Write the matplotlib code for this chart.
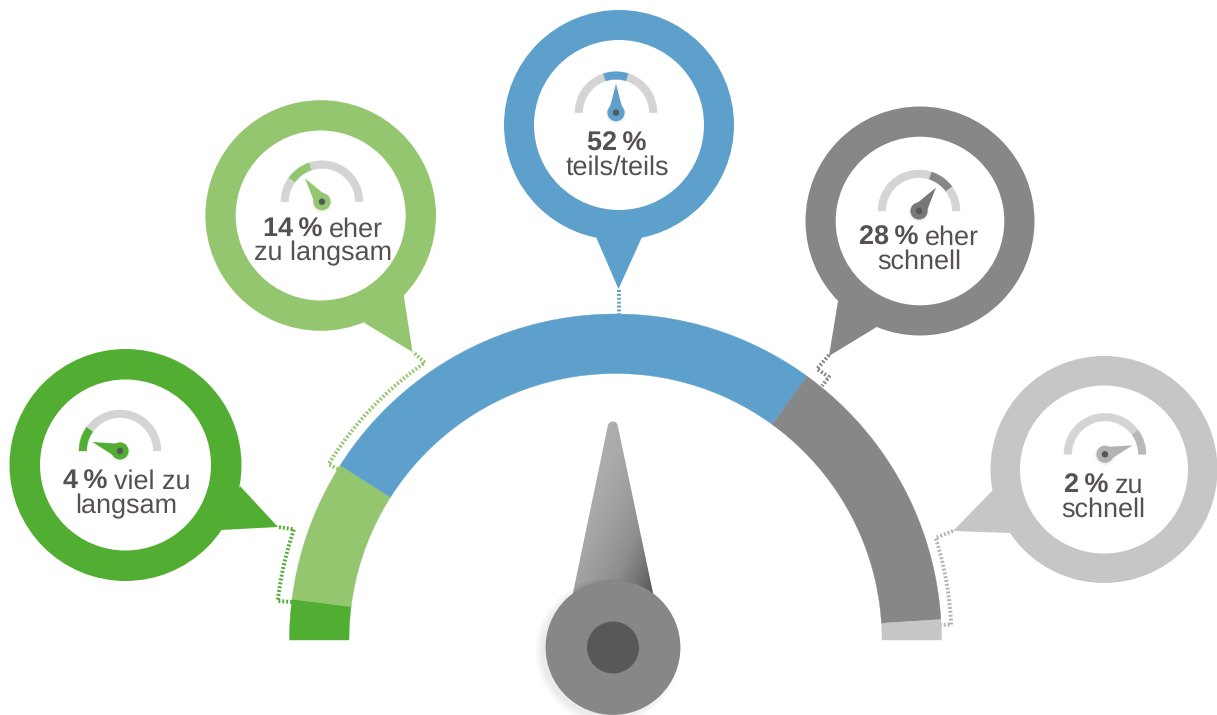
import matplotlib
matplotlib.use('Agg')
import matplotlib.pyplot as plt
import numpy as np
from matplotlib.colors import LinearSegmentedColormap
from matplotlib.patches import Circle, Polygon, PathPatch
from matplotlib.path import Path

plt.rcParams['text.hinting'] = 'no_hinting'
plt.rcParams['text.hinting_factor'] = 1

# survey shares, left to right along the dial
shares = [4, 14, 52, 28, 2]
first_line = ['viel zu', 'eher', '', 'eher', 'zu']
second_line = ['langsam', 'zu langsam', 'teils/teils', 'schnell', 'schnell']
colors = ['#52ae32', '#94c66f', '#5ea0cc', '#878787', '#c6c6c6']
hub_colors = ['#52ae32', '#94c66f', '#5ea0cc', '#777777', '#b2b2b2']

# bubble layout in pixels
bubble_xy = [(125.5, 465), (320.7, 215.5), (619, 125), (920, 221), (1104, 469.5)]
bubble_r = [116, 115.3, 115, 114.5, 113.5]
hole_r = [85.5, 85, 85, 84.3, 84]
tails = [
    [(240, 486), (278, 527), (221, 530)],
    [(403.7, 295), (412.5, 352), (364, 322.7)],
    [(596, 237), (618.5, 289), (642, 237)],
    [(838, 301), (829, 356), (876.7, 327)],
    [(993, 490), (953, 531), (1010, 533)],
]
gauge_xy = [(120, 451), (322, 201.7), (616, 112.7), (919, 211), (1105, 454.3)]
text_x = [126.5, 323, 617, 919, 1103.7]
text_y = [489, 236.7, 150.7, 244.3, 492.3]

CX, CY = 615.5, 640
R_OUT, R_IN = 326, 266.5
TEXT_COLOR = '#575050'
GAUGE_GREY = '#d4d4d4'
FONT = 'Liberation Sans'
FONT_SIZE = 19.7


def polar(cx, cy, r, deg):
    # 0 deg points left, 180 deg points right, going over the top
    a = np.radians(np.asarray(deg, dtype=float))
    return cx - r * np.cos(a), cy - r * np.sin(a)


def ring_segment(ax, cx, cy, r0, r1, a0, a1, color, z=2):
    th = np.linspace(a0, a1, 80)
    xo, yo = polar(cx, cy, r1, th)
    xi, yi = polar(cx, cy, r0, th[::-1])
    pts = np.column_stack([np.r_[xo, xi], np.r_[yo, yi]])
    ax.add_patch(Polygon(pts, closed=True, fc=color, ec=color, lw=0.3, zorder=z))


def leader(ax, xs, ys, color):
    ax.plot(xs, ys, color=color, lw=2.8, ls=(0, (0.5, 0.5)), dash_capstyle='butt', zorder=1)


def small_gauge(ax, x, y, idx, color, hub):
    r_o, r_i = 41, 33.3
    step = 180 / len(shares)
    for k in range(len(shares)):
        c = color if k == idx else GAUGE_GREY
        ring_segment(ax, x, y, r_i, r_o, k * step, (k + 1) * step, c, z=5)
    for k in range(1, len(shares)):
        # hairline seams between the gauge sections
        sx, sy = polar(x, y, np.array([r_i, r_o]), k * step)
        if k != idx and k != idx + 1:
            ax.plot(sx, sy, color='#dedede', lw=0.4, zorder=6)
    # needle points at the middle of the highlighted section
    ang = (idx + 0.5) * step
    tip = polar(x, y, 29, ang)
    b1 = polar(x, y, 7.5, ang + 90)
    b2 = polar(x, y, 7.5, ang - 90)
    ax.add_patch(Circle((x, y + 0.8), 10, fc='#f2f2f2', ec='none', zorder=6))
    ax.add_patch(Polygon([tip, b1, b2], closed=True, fc=hub, ec='none', zorder=7))
    ax.add_patch(Circle((x, y), 8.6, fc=hub, ec='none', zorder=7))
    ax.add_patch(Circle((x, y), 3.2, fc='#575756', ec='none', zorder=8))


def mixed_line(ax, renderer, xc, y, bold, regular, gap=6.5):
    t1 = ax.text(0, y, bold, family=FONT, weight='bold', fontsize=FONT_SIZE,
                 color=TEXT_COLOR, va='baseline', ha='left', zorder=9)
    w1 = t1.get_window_extent(renderer).width
    if not regular:
        t1.set_x(xc - w1 / 2)
        return
    t2 = ax.text(0, y, regular, family=FONT, fontsize=FONT_SIZE, color=TEXT_COLOR,
                 va='baseline', ha='left', zorder=9)
    w2 = t2.get_window_extent(renderer).width
    left = xc - (w1 + gap + w2) / 2
    t1.set_x(left)
    t2.set_x(left + w1 + gap)


fig = plt.figure(figsize=(12.17, 7.15), dpi=100)
ax = fig.add_axes([0, 0, 1, 1])
ax.set_xlim(0, 1217)
ax.set_ylim(715, 0)
ax.axis('off')
renderer = fig.canvas.get_renderer()

# main dial, one band per share
edges = np.cumsum([0] + shares) / sum(shares) * 180
for i, c in enumerate(colors):
    ring_segment(ax, CX, CY, R_IN, R_OUT, edges[i], edges[i + 1], c)

# dotted leaders from the bubbles to the dial
th = np.linspace(6.6, 19, 30)
x, y = polar(CX, CY, 340, th)
leader(ax, np.r_[292, x, 278], np.r_[602, y, 527], colors[0])

th = np.linspace(31.5, 55.5, 50)
x, y = polar(CX, CY, 336.5, th)
leader(ax, np.r_[338, x, 413], np.r_[469, y, 352], colors[1])

leader(ax, [618.5, 618.5], [290, 314], colors[2])
leader(ax, [829, 817, 829, 822], [355, 369, 377, 386], colors[3])

th = np.linspace(162.3, 177.4, 30)
x, y = polar(CX, CY, 336, th)
leader(ax, np.r_[953, x, 941], np.r_[531, y, 625], '#b4b4b4')

# bubbles with their pointers, gauges and labels
for i in range(len(shares)):
    bx, by = bubble_xy[i]
    ax.add_patch(Polygon(tails[i], closed=True, fc=colors[i], ec='none', zorder=3))
    ax.add_patch(Circle((bx, by), bubble_r[i], fc=colors[i], ec='none', zorder=3))
    ax.add_patch(Circle((bx, by), hole_r[i], fc='white', ec='none', zorder=4))
    small_gauge(ax, gauge_xy[i][0], gauge_xy[i][1], i,
                colors[i] if i < 4 else '#b8b8b8', hub_colors[i])
    mixed_line(ax, renderer, text_x[i], text_y[i], f'{shares[i]}\u2009%', first_line[i])
    mixed_line(ax, renderer, text_x[i], text_y[i] + 24, '', second_line[i], gap=0)

# big needle with a diagonal grey ramp
HUB_X, HUB_Y = 613, 647.5
arc = np.linspace(165, 15, 20)
cap_x = 612.8 + 5 * np.cos(np.radians(arc))
cap_y = 426.5 - 5 * np.sin(np.radians(arc))
verts = np.column_stack([np.r_[571.5, cap_x, 654.5], np.r_[600, cap_y, 600]])
clip = PathPatch(Path(np.vstack([verts, verts[0]]), closed=True), transform=ax.transData,
                 fc='none', ec='none')
ax.add_patch(clip)
gx, gy = np.meshgrid(np.linspace(0, 1, 120), np.linspace(0, 1, 200))
ramp = np.clip(0.62 * gy + 0.62 * gx - 0.3, 0, 1) ** 1.6
needle_cmap = LinearSegmentedColormap.from_list('needle', ['#adadac', '#8d8d8c', '#565655'])
im = ax.imshow(ramp, extent=(571, 655, 600, 420), cmap=needle_cmap, vmin=0, vmax=0.85,
               zorder=3, aspect='auto')
im.set_clip_path(clip)
ax.set_xlim(0, 1217)
ax.set_ylim(715, 0)

# soft shadow under the hub, mostly down and to the left
for k in range(10):
    ax.add_patch(Circle((HUB_X - 5, HUB_Y + 4), 66 + k * 0.8, fc='black', alpha=0.007,
                        ec='none', zorder=3.5))
ax.add_patch(Circle((HUB_X, HUB_Y), 67.4, fc='#878787', ec='none', zorder=4))
ax.add_patch(Circle((HUB_X, HUB_Y), 26, fc='#585856', ec='none', zorder=5))

fig.savefig('out.png', dpi=100, facecolor='white')
